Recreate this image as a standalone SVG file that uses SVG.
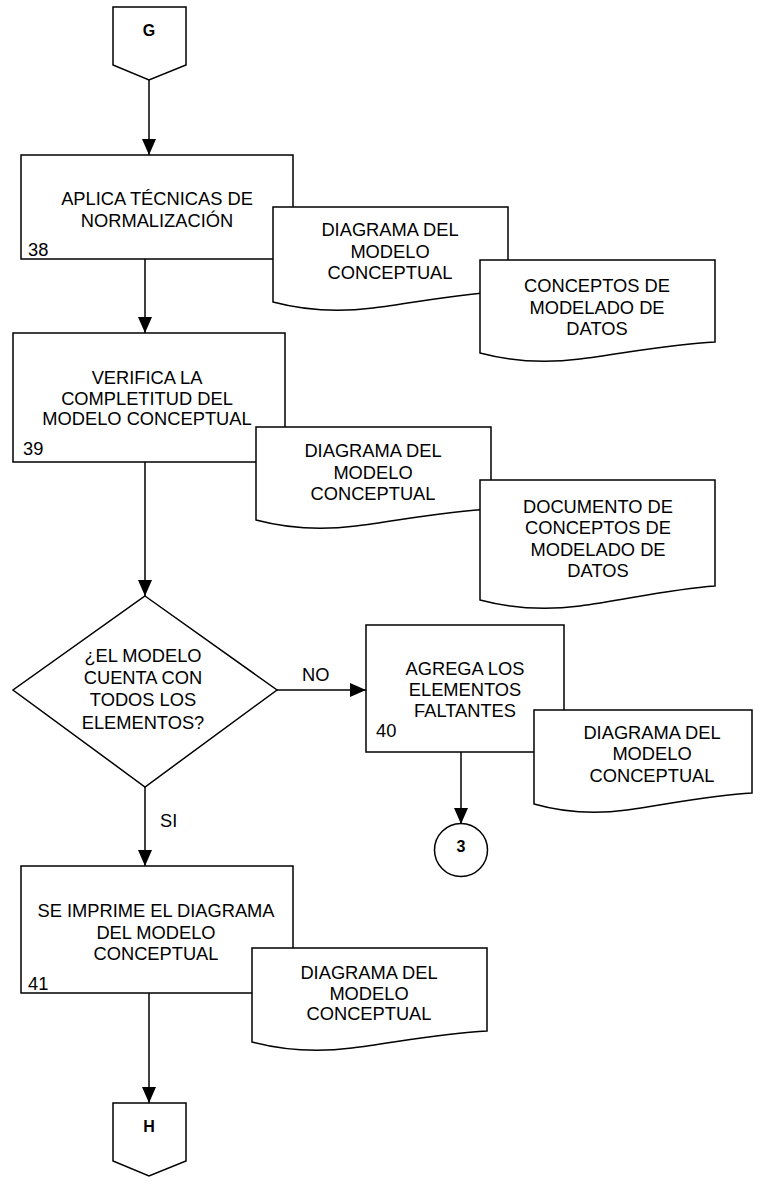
<svg xmlns="http://www.w3.org/2000/svg" width="769" height="1184" viewBox="0 0 769 1184">
<style>
.s{fill:#fff;stroke:#000;stroke-width:1.5}
.t{font-family:"Liberation Sans",Arial,sans-serif;font-size:18.3px;fill:#000;text-anchor:middle}
.n{font-family:"Liberation Sans",Arial,sans-serif;font-size:18.3px;fill:#000}
.b{font-family:"Liberation Sans",Arial,sans-serif;font-size:16px;font-weight:bold;fill:#000;text-anchor:middle}
.c{fill:none;stroke:#000;stroke-width:1.5}
</style>
<defs>
<marker id="ah" markerUnits="userSpaceOnUse" markerWidth="16" markerHeight="14" refX="16" refY="7" orient="auto">
<path d="M0,0 L16,7 L0,14 Z" fill="#000"/>
</marker>
</defs>
<g id="connectors">
<path class="c" d="M149,80 V155" marker-end="url(#ah)"/>
<path class="c" d="M145,259 V333" marker-end="url(#ah)"/>
<path class="c" d="M145,462 V596" marker-end="url(#ah)"/>
<path class="c" d="M277,690 H366" marker-end="url(#ah)"/>
<path class="c" d="M145,787 V866" marker-end="url(#ah)"/>
<path class="c" d="M461,752 V824" marker-end="url(#ah)"/>
<path class="c" d="M149,993 V1103" marker-end="url(#ah)"/>
<text class="n" x="302" y="681">NO</text>
<text class="n" x="160" y="827">SI</text>
</g>
<g id="G">
<path class="s" d="M113,7 H186 V65 L149,80 L113,65 Z"/>
<text class="b" x="149" y="36">G</text>
</g>
<g id="p38">
<rect class="s" x="21" y="155" width="272" height="104"/>
<text class="t" x="157" y="204.5">APLICA TÉCNICAS DE</text>
<text class="t" x="157" y="226.5">NORMALIZACIÓN</text>
<text class="n" x="28" y="256">38</text>
</g>
<g id="doc1">
<path class="s" d="M273,207 H508 V291 C463,293 413,303 373,308 C333,313 303,310 273,302 Z"/>
<text class="t" x="390" y="235.5">DIAGRAMA DEL</text>
<text class="t" x="390" y="257.5">MODELO</text>
<text class="t" x="390" y="278.5">CONCEPTUAL</text>
</g>
<g id="doc2">
<path class="s" d="M480,260 H715 V342 C670,344 620,354 580,359 C540,364 510,361 480,353 Z"/>
<text class="t" x="597" y="291.5">CONCEPTOS DE</text>
<text class="t" x="597" y="313.5">MODELADO DE</text>
<text class="t" x="597" y="334.5">DATOS</text>
</g>
<g id="p39">
<rect class="s" x="13" y="333" width="272" height="129"/>
<text class="t" x="147" y="383.5">VERIFICA LA</text>
<text class="t" x="147" y="404.5">COMPLETITUD DEL</text>
<text class="t" x="147" y="424.5">MODELO CONCEPTUAL</text>
<text class="n" x="23" y="455">39</text>
</g>
<g id="doc3">
<path class="s" d="M256,427 H491 V509 C446,511 396,521 356,526 C316,531 286,528 256,520 Z"/>
<text class="t" x="373" y="456.5">DIAGRAMA DEL</text>
<text class="t" x="373" y="478.5">MODELO</text>
<text class="t" x="373" y="499.5">CONCEPTUAL</text>
</g>
<g id="doc4">
<path class="s" d="M480,480 H715 V586 C670,589 620,601 580,606 C540,611 510,608 480,600 Z"/>
<text class="t" x="598" y="512.5">DOCUMENTO DE</text>
<text class="t" x="598" y="533.5">CONCEPTOS DE</text>
<text class="t" x="598" y="555.5">MODELADO DE</text>
<text class="t" x="598" y="576.5">DATOS</text>
</g>
<g id="decision">
<path class="s" d="M145,596 L277,690 L145,787 L13,690 Z"/>
<text class="t" x="143" y="661.5">¿EL MODELO</text>
<text class="t" x="143" y="683.5">CUENTA CON</text>
<text class="t" x="143" y="706">TODOS LOS</text>
<text class="t" x="143" y="728.5">ELEMENTOS?</text>
</g>
<g id="p40">
<rect class="s" x="366" y="625" width="198" height="127"/>
<text class="t" x="465" y="674.5">AGREGA LOS</text>
<text class="t" x="465" y="696">ELEMENTOS</text>
<text class="t" x="465" y="717">FALTANTES</text>
<text class="n" x="376" y="737">40</text>
</g>
<g id="doc5">
<path class="s" d="M534,710 H752 V793 C710,795 664,805 627,810 C590,815 562,812 534,804 Z"/>
<text class="t" x="652" y="738.5">DIAGRAMA DEL</text>
<text class="t" x="652" y="759.5">MODELO</text>
<text class="t" x="652" y="781.5">CONCEPTUAL</text>
</g>
<g id="c3">
<circle class="s" cx="461" cy="850" r="26.5"/>
<text class="b" x="461" y="852">3</text>
</g>
<g id="p41">
<rect class="s" x="21" y="866" width="272" height="127"/>
<text class="t" x="156" y="916.5">SE IMPRIME EL DIAGRAMA</text>
<text class="t" x="156" y="939">DEL MODELO</text>
<text class="t" x="156" y="959.5">CONCEPTUAL</text>
<text class="n" x="28" y="990">41</text>
</g>
<g id="doc6">
<path class="s" d="M252,948 H487 V1031 C442,1033 392,1043 352,1048 C312,1053 282,1050 252,1042 Z"/>
<text class="t" x="369" y="978.5">DIAGRAMA DEL</text>
<text class="t" x="369" y="999.5">MODELO</text>
<text class="t" x="369" y="1019.5">CONCEPTUAL</text>
</g>
<g id="H">
<path class="s" d="M113,1103 H186 V1161 L149,1176 L113,1161 Z"/>
<text class="b" x="149" y="1132">H</text>
</g>
</svg>
